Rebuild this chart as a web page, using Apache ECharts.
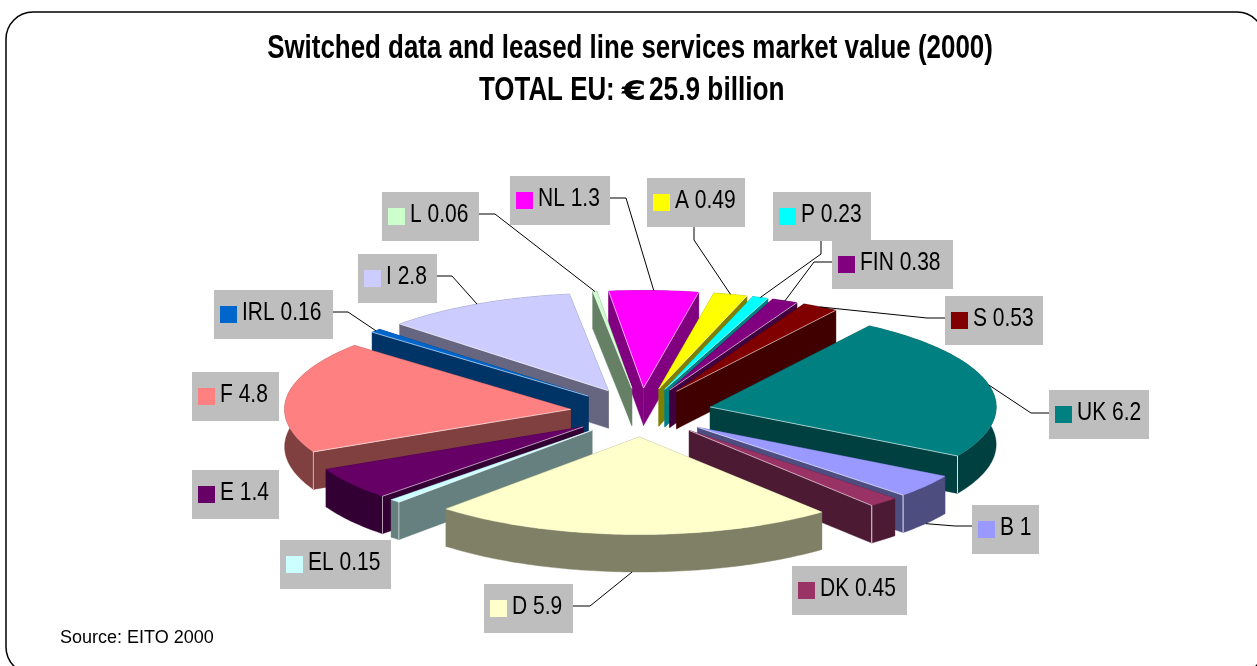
<!DOCTYPE html>
<html>
<head>
<meta charset="utf-8">
<style>html,body{margin:0;padding:0;background:#fff}#chart{width:1257px;height:666px}</style>
<script src="https://cdn.jsdelivr.net/npm/echarts@6/dist/echarts.min.js"></script>
</head>
<body>
<div id="chart"></div>
<script>
// ---- data (clockwise from the top of the pie) ----
const categories = ['NL','A','P','FIN','S','UK','B','DK','D','EL','E','F','IRL','I','L'];
const values = [1.3,0.49,0.23,0.38,0.53,6.2,1,0.45,5.9,0.15,1.4,4.8,0.16,2.8,0.06];
const valueLabels = ['1.3','0.49','0.23','0.38','0.53','6.2','1','0.45','5.9','0.15','1.4','4.8','0.16','2.8','0.06'];
const sliceColors = ['#FF00FF','#FFFF00','#00FFFF','#800080','#800000','#008080','#9999FF','#993366','#FFFFCC','#CCFFFF','#660066','#FF8080','#0066CC','#CCCCFF','#CCFFCC'];
const titleLine1 = 'Switched data and leased line services market value (2000)';
const titleLine2a = 'TOTAL EU:';
const titleEuro = '€';
const titleLine2b = '25.9 billion';
const sourceNote = 'Source: EITO 2000';

// ---- 3D pie projection (style, not data) ----
const pie = {cx:641, cy:412.5, r:286, tilt:0.341, depth:37.5, explodeX:71, explodeY:24.5, startDeg:-7};
// ---- annotation layout: label box [x,y,w,h] and leader path up to the rim ----
const labelBoxes = {
  NL:[510,176,100,49], A:[647,178,98,49], P:[773,192,98,49], FIN:[832,240,121,49], S:[945,296,98,49],
  UK:[1049,390,100,49], B:[972,505,67,49], DK:[792,566,115,49], D:[484,584,89,49], EL:[280,540,111,49],
  E:[192,470,87,49], F:[192,372,87,49], IRL:[214,290,119,49], I:[358,254,79,49], L:[382,192,97,49]
};
const leaderPaths = {
  NL:[[610,198],[626,198]], A:[[694,227],[694,240]], P:[[821,241],[821,254]], FIN:[[833,262],[814,262]],
  S:[[945,318],[927,318]], UK:[[1049,413],[1031,413]], B:[[972,526],[955,526]], D:[[573,606],[590,606]],
  IRL:[[333,312],[348,312]], I:[[437,276],[452,276]], L:[[479,214],[495,214]]
};
const narrowScale = 0.84;
const labelFont = '25px "Liberation Sans",sans-serif';
const titleFont = 'bold 33px "Liberation Sans",sans-serif';

const total = values.reduce((a,b)=>a+b,0);
let acc = 0;
const slices = values.map((v,i)=>{
  const s = pie.startDeg + acc/total*360; acc += v;
  const e = pie.startDeg + acc/total*360;
  return {i, name:categories[i], start:s, end:e, mid:(s+e)/2};
});
const rad = d=>d*Math.PI/180;
function apex(sl){const m=rad(sl.mid);return [pie.cx+pie.explodeX*Math.sin(m), pie.cy-pie.explodeY*Math.cos(m)];}
function rim(sl,deg){const a=apex(sl),t=rad(deg);return [a[0]+pie.r*Math.sin(t), a[1]-pie.r*pie.tilt*Math.cos(t)];}
function halfColor(hex){
  const n=parseInt(hex.slice(1),16);
  return 'rgb('+[(n>>16)&255,(n>>8)&255,n&255].map(c=>Math.round(c/2)).join(',')+')';
}
const norm = d=>((d%360)+360)%360;
// back-to-front painter order
const drawOrder = slices.slice().sort((a,b)=>Math.cos(rad(b.mid))-Math.cos(rad(a.mid)));

function renderSlice(params, api){
  const sl = drawOrder[params.dataIndex];
  const a = apex(sl), D = pie.depth, top = sliceColors[sl.i], wall = halfColor(top);
  const arc = [];
  const n = Math.max(2, Math.ceil(sl.end-sl.start));
  for(let k=0;k<=n;k++) arc.push(rim(sl, sl.start+(sl.end-sl.start)*k/n));
  const down = p=>[p[0],p[1]+D];
  const first = arc[0], last = arc[arc.length-1];
  const poly = (pts,fill)=>({type:'polygon',shape:{points:pts},style:{fill:fill,stroke:fill,lineWidth:0.4},silent:true});
  const line = (p,q,op)=>({type:'line',shape:{x1:p[0],y1:p[1],x2:q[0],y2:q[1]},style:{stroke:'#fff',lineWidth:1,opacity:op},silent:true});
  const children = [
    poly(arc.concat(arc.slice().reverse().map(down)), wall),
    poly([a,first,down(first),down(a)], wall),
    poly([a,last,down(last),down(a)], wall),
    poly([a].concat(arc), top)
  ];
  const sN = norm(sl.start), eN = norm(sl.end);
  if(eN>0 && eN<180) children.push(line(a,last,0.6));
  if(sN>180 && sN<360) children.push(line(a,first,0.6));
  if(eN>90 && eN<180) children.push(line(last,down(last),0.85));
  if(sN>180 && sN<270) children.push(line(first,down(first),0.6));
  return {type:'group',children:children};
}

function renderLabel(params, api){
  const sl = slices[params.dataIndex];
  const name = sl.name, b = labelBoxes[name], kids = [];
  const path = leaderPaths[name];
  if(path){
    const end = rim(sl, sl.mid);
    if(Math.cos(rad(sl.mid))<-0.3) end[1]+=pie.depth;
    kids.push({type:'polyline',shape:{points:path.concat([end])},style:{fill:null,stroke:'#000',lineWidth:1},silent:true});
  }
  kids.push({type:'rect',shape:{x:b[0],y:b[1],width:b[2],height:b[3]},style:{fill:'#BEBEBE'},silent:true});
  kids.push({type:'rect',shape:{x:b[0]+6,y:b[1]+16,width:17,height:17},style:{fill:sliceColors[sl.i]},silent:true});
  kids.push({type:'text',x:b[0]+28,y:b[1]+23,scaleX:narrowScale,style:{text:name+' '+valueLabels[sl.i],font:labelFont,fill:'#000',textVerticalAlign:'middle',textAlign:'left'},silent:true});
  return {type:'group',children:kids};
}

const chart = echarts.init(document.getElementById('chart'),null,{renderer:'canvas'});
chart.setOption({
  backgroundColor:'#fff',
  animation:false,
  graphic:[
    {type:'rect',silent:true,z:-1,shape:{x:6,y:12,width:1258,height:662,r:27},style:{fill:'#fff',stroke:'#000',lineWidth:1.5}},
    {type:'text',silent:true,x:630,y:49,scaleX:0.785,style:{text:titleLine1,font:titleFont,fill:'#000',align:'center',verticalAlign:'middle'}},
    {type:'text',silent:true,x:479,y:91,scaleX:0.785,style:{text:titleLine2a,font:titleFont,fill:'#000',align:'left',verticalAlign:'middle'}},
    {type:'text',silent:true,x:634,y:93,scaleX:1.35,style:{text:titleEuro,font:'bold 26px "DejaVu Sans",sans-serif',fill:'#000',align:'center',verticalAlign:'middle'}},
    {type:'text',silent:true,x:649,y:91,scaleX:0.795,style:{text:titleLine2b,font:titleFont,fill:'#000',align:'left',verticalAlign:'middle'}},
    {type:'text',silent:true,x:60,y:638,style:{text:sourceNote,font:'18px "Liberation Sans",sans-serif',fill:'#000',verticalAlign:'middle'}}
  ],
  series:[
    {type:'custom',name:'slices',coordinateSystem:'none',silent:true,renderItem:renderSlice,data:drawOrder.map(s=>values[s.i]),z:2},
    {type:'custom',name:'labels',coordinateSystem:'none',silent:true,renderItem:renderLabel,data:values,z:3}
  ]
});
</script>
</body>
</html>
